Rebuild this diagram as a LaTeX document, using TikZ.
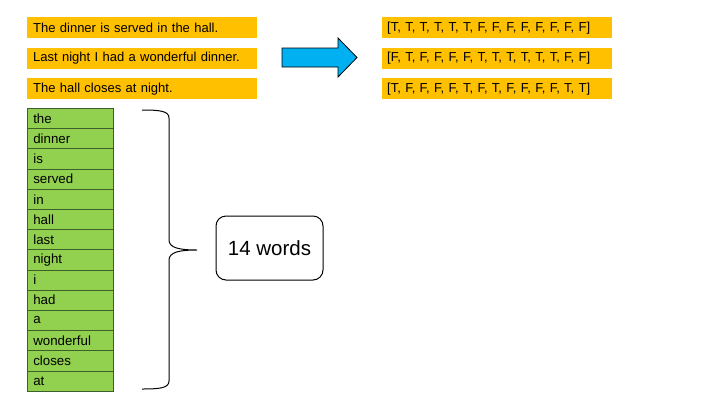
\documentclass[tikz,border=0pt]{standalone}
\usepackage{fontspec}
\setmainfont{Liberation Sans}
\definecolor{orng}{HTML}{FFC000}
\definecolor{grn}{HTML}{92D050}
\definecolor{cyn}{HTML}{00B0F0}
\definecolor{grnline}{HTML}{3F5F2A}
\begin{document}
\begin{tikzpicture}[x=1pt,y=-1pt,
  sent/.style={fill=orng,draw=none,minimum width=230pt,minimum height=21pt,anchor=north west,inner sep=0pt,text width=218pt,align=left,font=\fontsize{13}{15}\selectfont},
  vec/.style={sent,text width=220pt},
  word/.style={fill=grn,draw=grnline,line width=0.6pt,minimum width=86pt,minimum height=20.2pt,anchor=north west,inner sep=0pt,text width=74pt,align=left,font=\fontsize{13.3}{15}\selectfont},
  countbox/.style={draw=black,line width=1pt,rounded corners=10pt,minimum width=107pt,minimum height=64pt,font=\fontsize{20.5}{24}\selectfont}]
\useasboundingbox (0,0) rectangle (720,405);
% sentences
\node[sent] (s1) at (27,17) {The dinner is served in the hall.};
\node[sent] (s2) at (27,47.5) {Last night I had a wonderful dinner.};
\node[sent] (s3) at (27,78) {The hall closes at night.};
% vectors
\node[vec] (v1) at (382,17) {[T, T, T, T, T, T, F, F, F, F, F, F, F, F]};
\node[vec] (v2) at (382,47.5) {[F, T, F, F, F, F, T, T, T, T, T, T, F, F]};
\node[vec] (v3) at (382,78) {[T, F, F, F, F, T, F, T, F, F, F, F, T, T]};
% arrow
\draw[fill=cyn,draw=black,line width=0.8pt] (282,48) -- (338,48) -- (338,38) -- (357,57.5) -- (338,77) -- (338,67) -- (282,67) -- cycle;
% words
\foreach \w [count=\i from 0] in {the,dinner,is,served,in,hall,last,night,i,had,a,wonderful,closes,at}{
  \node[word] (w\i) at (27,{108+20.2*\i}) {\w};
}
% brace
\coordinate (bt) at (142,110);
\coordinate (bb) at (142,389);
\coordinate (bm) at (197,250);
\draw[line width=1pt] (bt) .. controls (160,110) and (169,111) .. (169,118)
  -- (169,240) .. controls (169,248) and (180,250) .. (bm)
  .. controls (180,250) and (169,252) .. (169,260)
  -- (169,381) .. controls (169,388) and (160,389) .. (bb);
% count box
\node[countbox] (cnt) at (269.5,248) {\raisebox{-1.5pt}{14 words}};
\end{tikzpicture}
\end{document}
